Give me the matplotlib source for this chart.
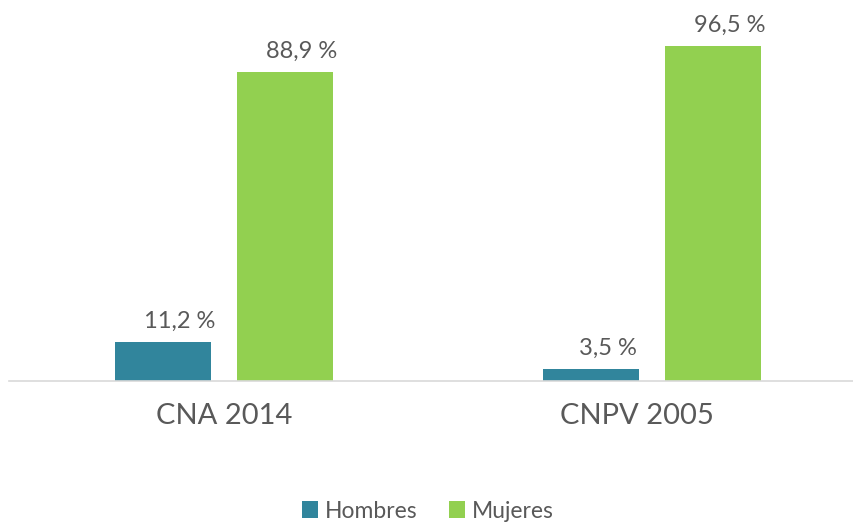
import matplotlib.pyplot as plt
import numpy as np

categories = ['CNA 2014', 'CNPV 2005']
series_names = ['Hombres', 'Mujeres']
hombres = [11.2, 3.5]
mujeres = [88.9, 96.5]
hombres_labels = ['11,2 %', '3,5 %']
mujeres_labels = ['88,9 %', '96,5 %']

colors = ['#31859C', '#92D050']
text_gray = '#595959'

plt.rcParams['font.family'] = ['Lato', 'DejaVu Sans']

fig = plt.figure(figsize=(8.54, 5.25), dpi=100)
ax = fig.add_axes([9 / 854, 1 - 381 / 525, 844 / 854, 381 / 525])

x = np.arange(len(categories))
w = 0.224
off = 0.1425
b1 = ax.bar(x - off, hombres, w, color=colors[0], label=series_names[0])
b2 = ax.bar(x + off, mujeres, w, color=colors[1], label=series_names[1])

for bars, labels in [(b1, hombres_labels), (b2, mujeres_labels)]:
    for rect, lab in zip(bars, labels):
        ax.annotate(lab, (rect.get_x() + rect.get_width() / 2, rect.get_height()),
                    xytext=(17, 10), textcoords='offset pixels',
                    ha='center', va='bottom', fontsize=17, color=text_gray)

ax.set_xlim(-0.502, 1.47)
ax.set_ylim(0, 381 / 3.476)
# the second category label sits a little left of its bar pair in the original
ax.set_xticks(x - np.array([0, 0.035]))
ax.set_xticklabels(categories, fontsize=21, color=text_gray)
ax.tick_params(axis='x', length=0, pad=16)
ax.set_yticks([])
for s in ['top', 'left', 'right']:
    ax.spines[s].set_visible(False)
ax.spines['bottom'].set_color('#D9D9D9')
ax.spines['bottom'].set_linewidth(1.2)

leg = fig.legend(loc='center', bbox_to_anchor=(428 / 854, 1 - 511 / 525), ncol=2,
                 frameon=False, fontsize=16.5, handlelength=0.7, handleheight=0.7,
                 handletextpad=0.3, columnspacing=1.4)
for t in leg.get_texts():
    t.set_color(text_gray)

plt.savefig('out.png', dpi=100)
